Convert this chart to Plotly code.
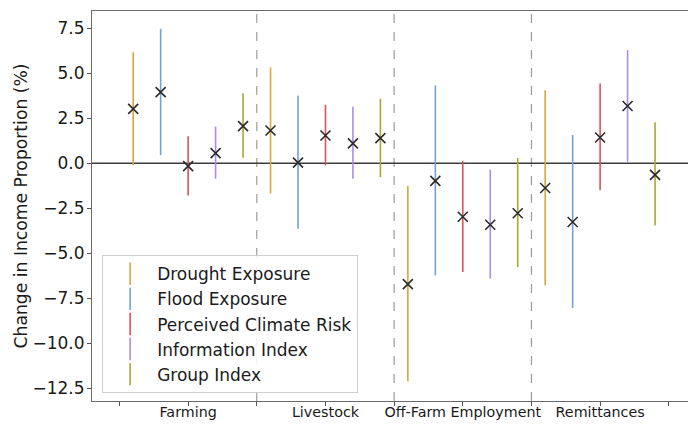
import plotly.graph_objects as go

# Income source categories and climate/exposure variables
categories = ["Farming", "Livestock", "Off-Farm Employment", "Remittances"]
series_names = ["Drought Exposure", "Flood Exposure", "Perceived Climate Risk",
                "Information Index", "Group Index"]
series_colors = ["#d8a63e", "#6fa3d4", "#d9545a", "#a98ee8", "#a9a832"]

# Point estimates (%) per series, one value per category
estimates = {
    "Drought Exposure":       [3.02, 1.82, -6.72, -1.38],
    "Flood Exposure":         [3.95, 0.03, -0.98, -3.27],
    "Perceived Climate Risk": [-0.16, 1.54, -2.98, 1.43],
    "Information Index":      [0.56, 1.10, -3.42, 3.18],
    "Group Index":            [2.06, 1.39, -2.78, -0.65],
}
# 95% confidence interval bounds (%)
ci_lower = {
    "Drought Exposure":       [-0.12, -1.68, -12.12, -6.78],
    "Flood Exposure":         [0.45, -3.65, -6.24, -8.05],
    "Perceived Climate Risk": [-1.80, -0.12, -6.05, -1.50],
    "Information Index":      [-0.86, -0.86, -6.42, 0.07],
    "Group Index":            [0.30, -0.78, -5.77, -3.47],
}
ci_upper = {
    "Drought Exposure":       [6.16, 5.32, -1.27, 4.05],
    "Flood Exposure":         [7.47, 3.75, 4.32, 1.56],
    "Perceived Climate Risk": [1.50, 3.25, 0.12, 4.43],
    "Information Index":      [2.04, 3.14, -0.36, 6.29],
    "Group Index":            [3.89, 3.58, 0.29, 2.28],
}
offsets = [-0.4, -0.2, 0.0, 0.2, 0.4]
y_ticks = [7.5, 5.0, 2.5, 0.0, -2.5, -5.0, -7.5, -10.0, -12.5]

fig = go.Figure()

for name, color, off in zip(series_names, series_colors, offsets):
    xs = [i + off for i in range(len(categories))]
    est = estimates[name]
    up = [u - e for u, e in zip(ci_upper[name], est)]
    dn = [e - l for e, l in zip(est, ci_lower[name])]
    fig.add_trace(go.Scatter(
        x=xs, y=est, mode="markers", showlegend=False,
        marker=dict(symbol="x-thin-open", size=10, color="#2b2b2b",
                    line=dict(width=1.6, color="#2b2b2b")),
        error_y=dict(type="data", symmetric=False, array=up, arrayminus=dn,
                     color=color, thickness=1.6, width=0),
    ))

# legend handles: short vertical strokes in each series colour
for name, color in zip(series_names, series_colors):
    fig.add_trace(go.Scatter(
        x=[None], y=[None], mode="markers", name=name,
        marker=dict(symbol="line-ns-open", size=16, color=color,
                    line=dict(width=1.6, color=color)),
    ))

# group separators
for b in [0.5, 1.5, 2.5]:
    fig.add_shape(type="line", xref="x", yref="paper", x0=b, x1=b, y0=0, y1=1,
                  line=dict(color="#9a9a9a", width=1.2, dash="dash"), layer="below")
# zero reference
fig.add_shape(type="line", xref="paper", yref="y", x0=0, x1=1, y0=0, y1=0,
              line=dict(color="#3c3c3c", width=1.6), layer="below")

tick_x = [i * 0.5 - 0.5 for i in range(9)]
tick_text = ["" if k % 2 == 0 else categories[k // 2] for k in range(9)]

font = "DejaVu Sans, sans-serif"
fig.update_layout(
    width=688, height=424,
    margin=dict(l=92, r=0, t=11, b=23),
    plot_bgcolor="white", paper_bgcolor="white",
    font=dict(family=font, color="#1a1a1a"),
    xaxis=dict(range=[-0.70, 3.64], tickvals=tick_x, ticktext=tick_text,
               ticks="outside", ticklen=4, tickcolor="#555", tickwidth=1,
               tickfont=dict(size=14.3), showgrid=False, zeroline=False,
               automargin=False, ticklabelstandoff=-6,
               showline=True, linecolor="#6a6a6a", linewidth=1.2, mirror=True),
    yaxis=dict(range=[-13.22, 8.46], tickvals=y_ticks,
               ticktext=[f"{v:.1f}".replace("-", "\u2212") for v in y_ticks],
               ticks="outside", ticklen=4, tickcolor="#555", tickwidth=1,
               tickfont=dict(size=17), showgrid=False, zeroline=False,
               automargin=False, ticklabelstandoff=-1,
               showline=True, linecolor="#6a6a6a", linewidth=1.2,
               title=dict(text="Change in Income Proportion (%)",
                          font=dict(size=17.2), standoff=0)),
    legend=dict(x=0.017, y=0.02, xanchor="left", yanchor="bottom",
                bgcolor="rgba(255,255,255,0.85)", bordercolor="#d0d0d0",
                borderwidth=1, font=dict(size=17), tracegroupgap=0,
                itemwidth=44),
)

fig.write_html("out.html")
